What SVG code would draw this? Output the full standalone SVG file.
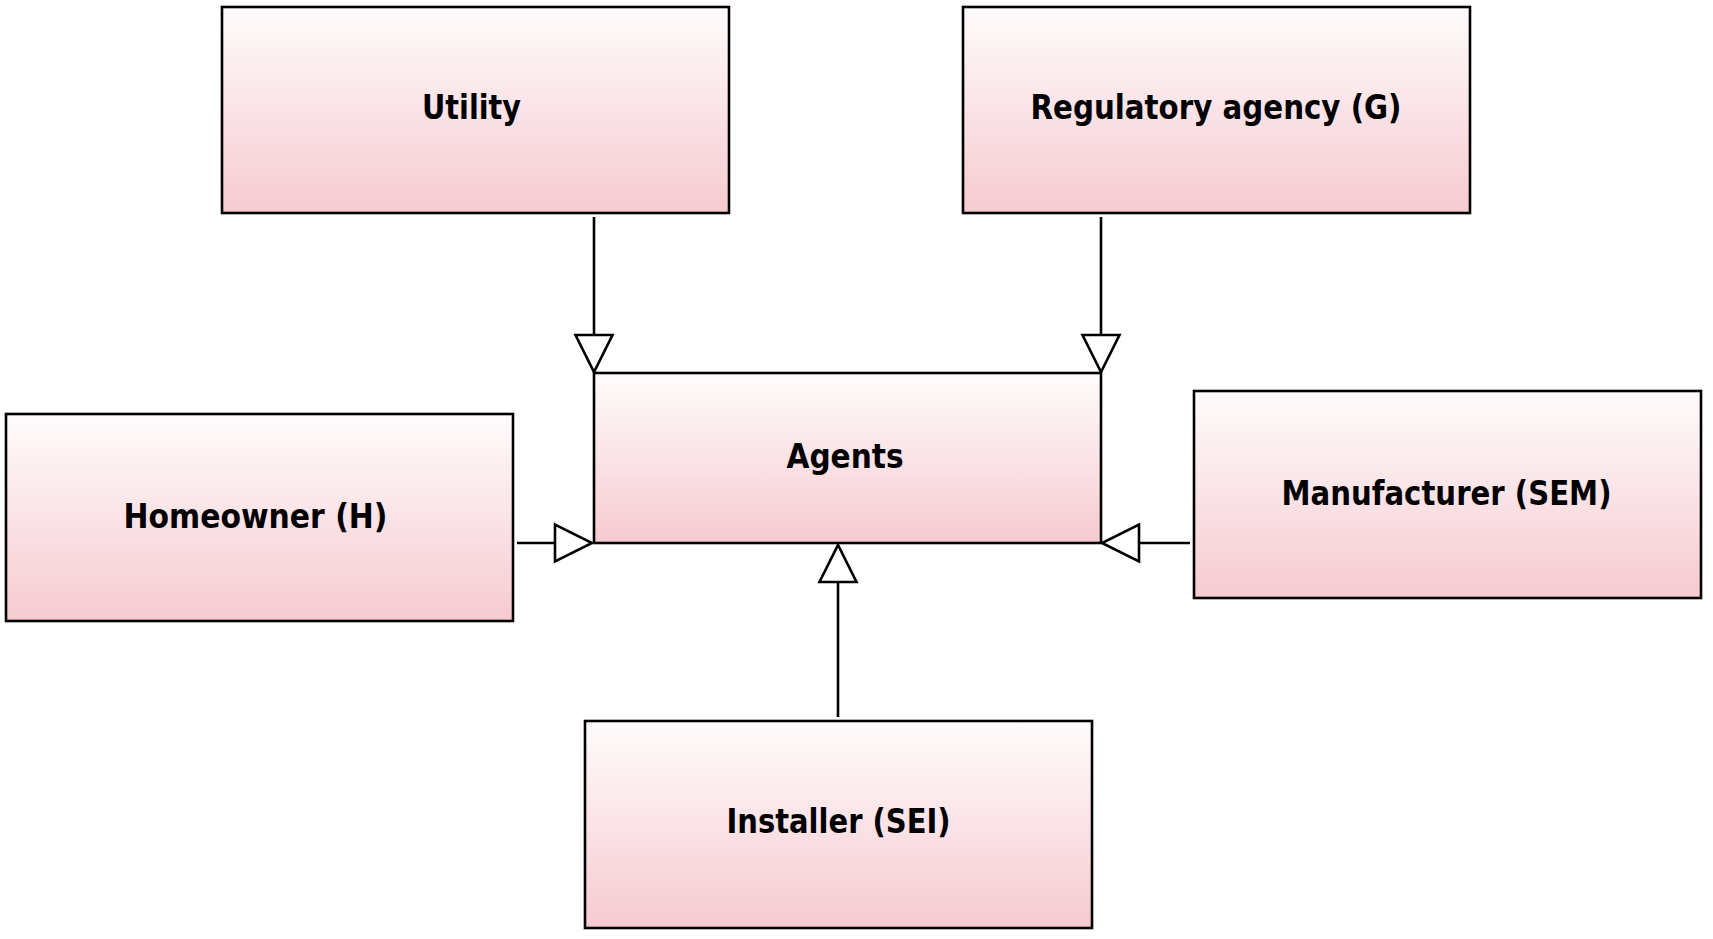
<svg xmlns="http://www.w3.org/2000/svg" width="1713" height="939" viewBox="0 0 1713 939">
<defs>
<linearGradient id="pink" x1="0" y1="0" x2="0" y2="1">
<stop offset="0" stop-color="#fffcfc"/>
<stop offset="1" stop-color="#f6cad1"/>
</linearGradient>
<style>
.box{fill:url(#pink);stroke:#000;stroke-width:2.6}
.lbl{font-family:"DejaVu Sans Condensed","DejaVu Sans",sans-serif;font-weight:bold;font-size:33px;fill:#000;text-anchor:middle}
.edge{stroke:#000;stroke-width:2.6;fill:none}
.head{fill:#fff;stroke:#000;stroke-width:2.6;stroke-linejoin:miter}
</style>
</defs>
<rect width="1713" height="939" fill="#fff"/>
<g id="connectors">
<line class="edge" x1="594" y1="217" x2="594" y2="335"/>
<polygon class="head" points="575.5,335 612.5,335 594,372"/>
<line class="edge" x1="1101" y1="217" x2="1101" y2="335"/>
<polygon class="head" points="1082.5,335 1119.5,335 1101,372"/>
<line class="edge" x1="517" y1="543" x2="555" y2="543"/>
<polygon class="head" points="555,524.5 555,561.5 592,543"/>
<line class="edge" x1="1190" y1="543" x2="1139" y2="543"/>
<polygon class="head" points="1139,524.5 1139,561.5 1102,543"/>
<line class="edge" x1="838" y1="717" x2="838" y2="582"/>
<polygon class="head" points="819.5,582 856.5,582 838,545"/>
</g>
<g id="utility">
<rect class="box" x="222" y="7" width="507" height="206"/>
<text class="lbl" x="471.5" y="119" textLength="99" lengthAdjust="spacingAndGlyphs">Utility</text>
</g>
<g id="regulatory">
<rect class="box" x="963" y="7" width="507" height="206"/>
<text class="lbl" x="1216" y="119" textLength="371" lengthAdjust="spacingAndGlyphs">Regulatory agency (G)</text>
</g>
<g id="agents">
<rect class="box" x="594" y="373" width="507" height="170"/>
<text class="lbl" x="845" y="468" textLength="117" lengthAdjust="spacingAndGlyphs">Agents</text>
</g>
<g id="homeowner">
<rect class="box" x="6" y="414" width="507" height="207"/>
<text class="lbl" x="255.5" y="528" textLength="264" lengthAdjust="spacingAndGlyphs">Homeowner (H)</text>
</g>
<g id="manufacturer">
<rect class="box" x="1194" y="391" width="507" height="207"/>
<text class="lbl" x="1446.5" y="505" textLength="330" lengthAdjust="spacingAndGlyphs">Manufacturer (SEM)</text>
</g>
<g id="installer">
<rect class="box" x="585" y="721" width="507" height="207"/>
<text class="lbl" x="838.5" y="833" textLength="224" lengthAdjust="spacingAndGlyphs">Installer (SEI)</text>
</g>
</svg>
